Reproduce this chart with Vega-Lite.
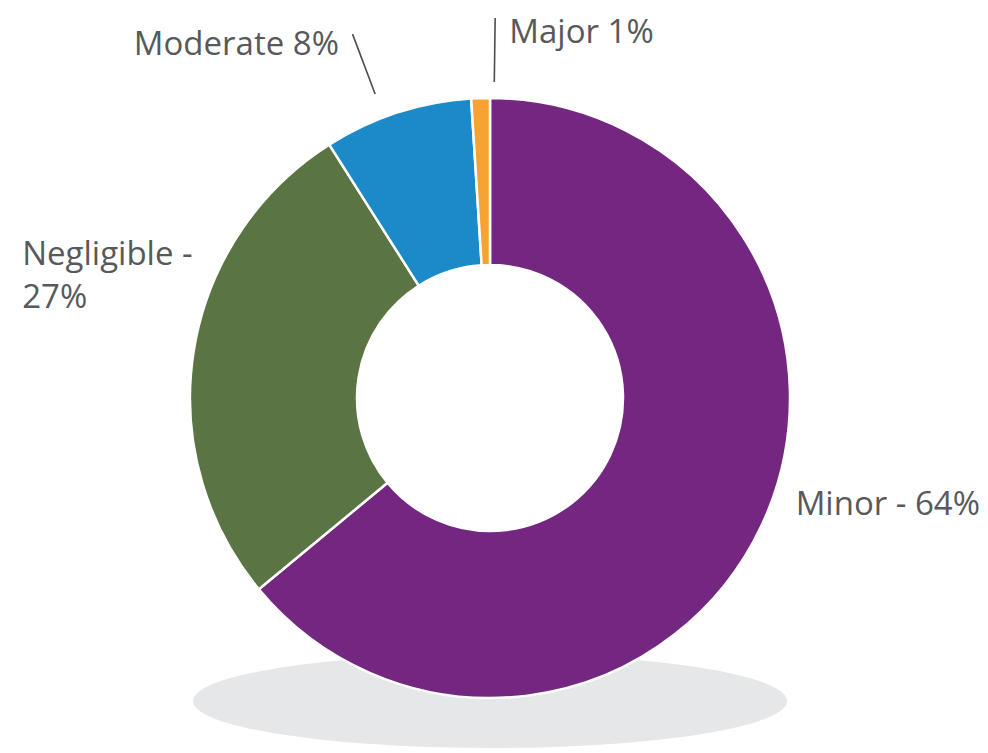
{
  "$schema": "https://vega.github.io/schema/vega-lite/v6.json",
  "width": 980,
  "height": 708,
  "autosize": {"type": "none"},
  "padding": {"left": 0, "top": 44, "right": 8, "bottom": 0},
  "background": "white",
  "config": {"view": {"stroke": null}},
  "datasets": {
    "slices": [
      {"category": "Minor", "percent": 64, "order": 1, "label": "Minor - 64%"},
      {"category": "Negligible", "percent": 27, "order": 2, "label": "Negligible -\n27%"},
      {"category": "Moderate", "percent": 8, "order": 3, "label": "Moderate 8%"},
      {"category": "Major", "percent": 1, "order": 4, "label": "Major 1%"}
    ],
    "shadow": [{"item": "shadow"}]
  },
  "layer": [
    {
      "data": {"name": "shadow"},
      "mark": {
        "type": "point",
        "shape": "M-1,0C-1,-0.0874,-0.5523,-0.1582,0,-0.1582C0.5523,-0.1582,1,-0.0874,1,0C1,0.0874,0.5523,0.1582,0,0.1582C-0.5523,0.1582,-1,0.0874,-1,0Z",
        "size": 352836,
        "filled": true,
        "fill": "#e6e7e8",
        "opacity": 1,
        "strokeWidth": 0,
        "yOffset": 303
      },
      "encoding": {}
    },
    {
      "data": {"name": "slices"},
      "transform": [
        {"stack": "percent", "groupby": [], "sort": [{"field": "order"}], "as": ["v0", "v1"]},
        {"calculate": "(datum.v0 + datum.v1) / 2", "as": "mid"}
      ],
      "layer": [
        {
          "mark": {"type": "arc", "outerRadius": 300, "innerRadius": 133, "stroke": "white", "strokeWidth": 2.5},
          "encoding": {
            "theta": {"field": "v0", "type": "quantitative", "scale": {"domain": [0, 100]}},
            "theta2": {"field": "v1"},
            "color": {
              "field": "category",
              "type": "nominal",
              "scale": {"domain": ["Minor", "Negligible", "Moderate", "Major"], "range": ["#742781", "#5b7444", "#1c8ac9", "#f7a333"]},
              "legend": null
            }
          }
        },
        {
          "transform": [{"filter": "datum.category === 'Major'"}],
          "mark": {"type": "arc", "radius": 380, "radius2": 316, "thetaOffset": 0.045, "theta2Offset": 0.045, "filled": false, "stroke": "#4d4d4f", "strokeWidth": 1.6},
          "encoding": {
            "theta": {"field": "mid", "type": "quantitative", "scale": {"domain": [0, 100]}, "stack": null},
            "theta2": {"field": "mid"}
          }
        },
        {
          "transform": [{"filter": "datum.category === 'Moderate'"}],
          "mark": {"type": "arc", "radius": 389, "radius2": 325, "thetaOffset": -0.047, "theta2Offset": -0.047, "filled": false, "stroke": "#4d4d4f", "strokeWidth": 1.6},
          "encoding": {
            "theta": {"field": "mid", "type": "quantitative", "scale": {"domain": [0, 100]}, "stack": null},
            "theta2": {"field": "mid"}
          }
        },
        {
          "transform": [{"filter": "datum.category === 'Minor'"}],
          "mark": {"type": "text", "radius": 340, "align": "left", "baseline": "alphabetic", "dx": -2, "dy": -28, "font": "Open Sans", "fontSize": 33, "fill": "#58595b"},
          "encoding": {
            "theta": {"field": "mid", "type": "quantitative", "scale": {"domain": [0, 100]}, "stack": null},
            "text": {"field": "label"}
          }
        },
        {
          "transform": [{"filter": "datum.category === 'Negligible'"}],
          "mark": {"type": "text", "radius": 340, "align": "left", "baseline": "alphabetic", "dx": -132, "dy": -80, "lineBreak": "\n", "lineHeight": 43, "font": "Open Sans", "fontSize": 33, "fill": "#58595b"},
          "encoding": {
            "theta": {"field": "mid", "type": "quantitative", "scale": {"domain": [0, 100]}, "stack": null},
            "text": {"field": "label"}
          }
        },
        {
          "transform": [{"filter": "datum.category === 'Moderate'"}],
          "mark": {"type": "text", "radius": 340, "align": "right", "baseline": "alphabetic", "dx": -46, "dy": -20, "font": "Open Sans", "fontSize": 33, "fill": "#58595b"},
          "encoding": {
            "theta": {"field": "mid", "type": "quantitative", "scale": {"domain": [0, 100]}, "stack": null},
            "text": {"field": "label"}
          }
        },
        {
          "transform": [{"filter": "datum.category === 'Major'"}],
          "mark": {"type": "text", "radius": 340, "align": "left", "baseline": "alphabetic", "dx": 30, "dy": -15, "font": "Open Sans", "fontSize": 33, "fill": "#58595b"},
          "encoding": {
            "theta": {"field": "mid", "type": "quantitative", "scale": {"domain": [0, 100]}, "stack": null},
            "text": {"field": "label"}
          }
        }
      ]
    }
  ]
}
